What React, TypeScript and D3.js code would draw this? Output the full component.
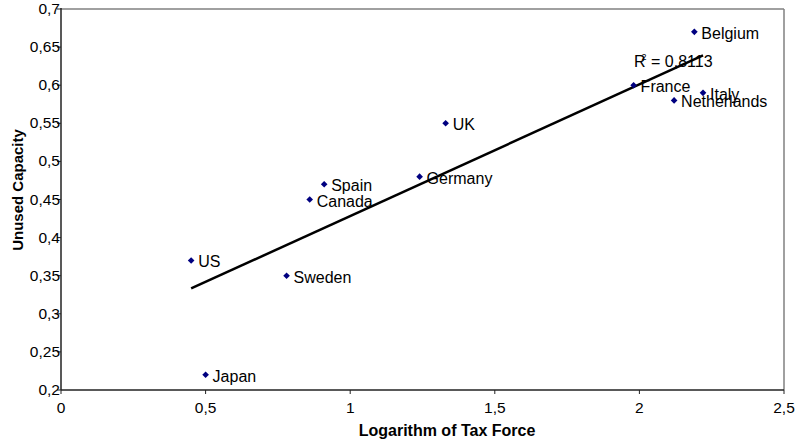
import React from "react";
import * as d3 from "d3";

const countries = ["Belgium", "France", "Italy", "Netherlands", "UK", "Germany", "Spain", "Canada", "US", "Sweden", "Japan"];
const taxForce = [2.19, 1.98, 2.22, 2.12, 1.33, 1.24, 0.91, 0.86, 0.45, 0.78, 0.50];
const unusedCapacity = [0.67, 0.60, 0.59, 0.58, 0.55, 0.48, 0.47, 0.45, 0.37, 0.35, 0.22];
const xTicks = [0, 0.5, 1, 1.5, 2, 2.5];
const yTicks = [0.2, 0.25, 0.3, 0.35, 0.4, 0.45, 0.5, 0.55, 0.6, 0.65, 0.7];
const r2Label = "0,8113";

const W = 802, H = 444;
const M = { left: 61, right: 18, top: 9, bottom: 54 };

const fmt = (v: number) => String(+v.toFixed(2)).replace(".", ",");

export default function App() {
  const x = d3.scaleLinear().domain([0, 2.5]).range([M.left, W - M.right]);
  const y = d3.scaleLinear().domain([0.2, 0.7]).range([H - M.bottom, M.top]);
  const n = taxForce.length;
  const mx = d3.mean(taxForce)!;
  const my = d3.mean(unusedCapacity)!;
  let sxy = 0, sxx = 0;
  for (let i = 0; i < n; i++) {
    sxy += (taxForce[i] - mx) * (unusedCapacity[i] - my);
    sxx += (taxForce[i] - mx) ** 2;
  }
  const b = sxy / sxx;
  const a = my - b * mx;
  const x0 = d3.min(taxForce)!, x1 = d3.max(taxForce)!;
  const line = d3.line<number>().x((d) => x(d)).y((d) => y(a + b * d));
  const diamond = d3.symbol().type(d3.symbolSquare).size(22)()!;
  const font = "Arial, 'Liberation Sans', sans-serif";
  const left = x(0), right = x(2.5), top = y(0.7), bottom = y(0.2);

  return (
    <svg width={W} height={H} style={{ position: "absolute", left: 0, top: 0, background: "#fff" }} fontFamily={font}>
      <rect x={0} y={0} width={W} height={H} fill="#fff" />
      <line x1={left} y1={top} x2={right} y2={top} stroke="#808080" strokeWidth={1.5} />
      <line x1={right} y1={top} x2={right} y2={bottom} stroke="#808080" strokeWidth={1.5} />
      <line x1={left} y1={top - 1} x2={left} y2={bottom} stroke="#222" strokeWidth={1.5} />
      <line x1={left} y1={bottom} x2={right} y2={bottom} stroke="#222" strokeWidth={1.5} />
      {yTicks.map((t) => (
        <g key={"y" + t}>
          <line x1={left - 4} x2={left} y1={y(t)} y2={y(t)} stroke="#222" strokeWidth={1} />
          <text x={left - 1} y={y(t) + 5} textAnchor="end" fontSize={15.5} fill="#000">{fmt(t)}</text>
        </g>
      ))}
      {xTicks.map((t) => (
        <g key={"x" + t}>
          <line x1={x(t)} x2={x(t)} y1={bottom} y2={bottom + 4} stroke="#222" strokeWidth={1} />
          <text x={x(t)} y={bottom + 23} textAnchor="middle" fontSize={15.5} fill="#000">{fmt(t)}</text>
        </g>
      ))}
      <path d={line([x0, x1])!} stroke="#000" strokeWidth={2.5} fill="none" />
      {countries.map((c, i) => (
        <g key={c}>
          <path d={diamond} transform={`translate(${x(taxForce[i])},${y(unusedCapacity[i])}) rotate(45)`} fill="#000080" />
          <text x={x(taxForce[i]) + 7} y={y(unusedCapacity[i]) + 7} fontSize={16} fill="#000">{c}</text>
        </g>
      ))}
      <text x={634} y={67} fontSize={16} fill="#000">
        R<tspan fontSize={9} dx={-4} dy={-7}>2</tspan><tspan dy={7}>{" = " + r2Label}</tspan>
      </text>
      <text x={447} y={436} textAnchor="middle" fontSize={16} fontWeight="bold" fill="#000">Logarithm of Tax Force</text>
      <text transform={`translate(23,${190}) rotate(-90)`} textAnchor="middle" fontSize={15} fontWeight="bold" fill="#000">Unused Capacity</text>
    </svg>
  );
}
